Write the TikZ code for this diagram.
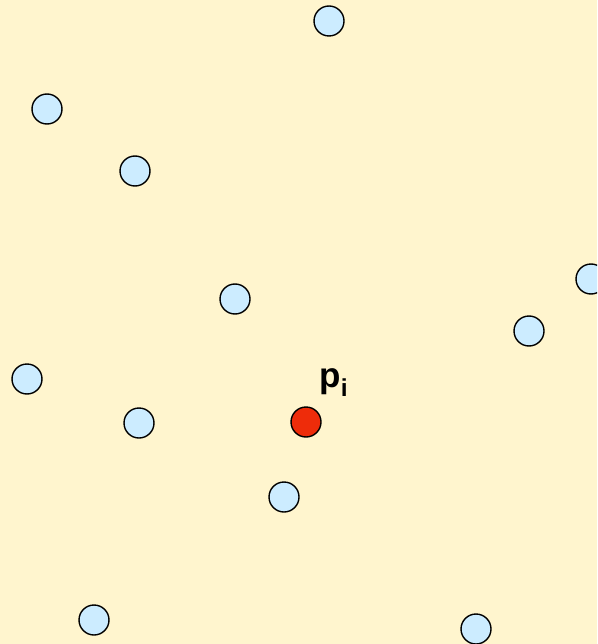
\documentclass[tikz,border=0pt]{standalone}
\usepackage{fontspec}
\setmainfont{Liberation Sans}
\usetikzlibrary{positioning}
\definecolor{bgyellow}{RGB}{255,245,206}
\definecolor{ptblue}{RGB}{204,236,255}
\definecolor{ptred}{RGB}{238,44,10}
\tikzset{
  pt/.style={circle,draw=black,line width=1.4pt,fill=ptblue,minimum size=30pt,inner sep=0pt},
  ptsel/.style={pt,fill=ptred}
}
\begin{document}
\begin{tikzpicture}[x=1pt,y=-1pt]
    \useasboundingbox (0,0) rectangle (597,644);
    \clip (0,0) rectangle (597,644);
    \fill[bgyellow] (0,0) rectangle (597,644);
    \foreach \px/\py [count=\k] in {329/21,47/109,135/171,235/299,591/279,529/331,
        27/379,139/423,284/497,94/620,476/629}
      \node[pt] (p\k) at (\px,\py) {};
    \node[ptsel] (pi) at (306,422) {};
    \node[font=\fontsize{35}{38}\selectfont\bfseries,anchor=base west]
      (lbl) at ([xshift=10pt,yshift=35pt]pi.center) {p\textsubscript{i}};
\end{tikzpicture}
\end{document}
